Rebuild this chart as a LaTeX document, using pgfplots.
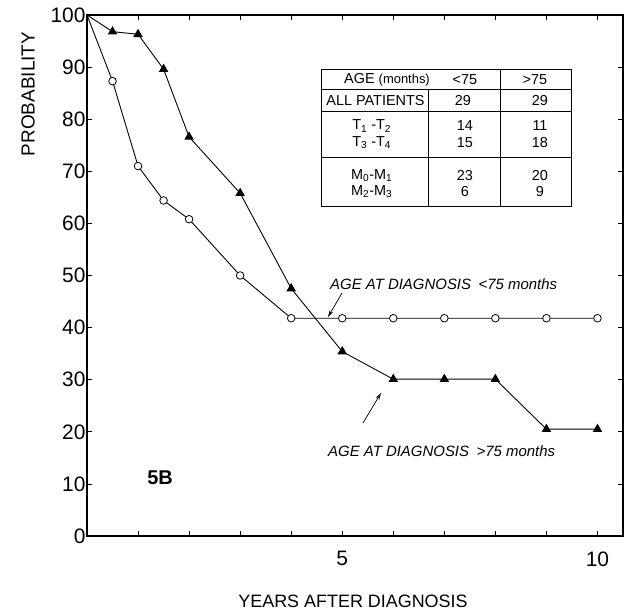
\documentclass[border=0pt]{standalone}
\usepackage{pgfplots}
\pgfplotsset{compat=1.18}
\usepackage{fontspec}
\setmainfont{Liberation Sans}
\usetikzlibrary{arrows.meta}

\newcommand{\fs}[1]{\fontsize{#1}{#1}\selectfont}

\begin{document}
\begin{tikzpicture}
% picture is 627 x 613 bp, axis box from (87,15) to (623,536) in image pixels
\useasboundingbox (-87bp,-77bp) rectangle (540bp,536bp);
\begin{axis}[
    scale only axis,
    width=536bp, height=521bp,
    xmin=0, xmax=10.5,
    ymin=0, ymax=100,
    clip=false,
    axis line style={line width=1.7pt},
    tick style={black, line width=0.8pt},
    major tick length=5bp,
    tick align=inside,
    xtick={0,...,10},
    xticklabels={,,,,,5,,,,,10},
    ytick={0,10,...,100},
    yticklabel pos=left,
    xticklabel pos=bottom,
    ticklabel style={font=\fs{21}},
    yticklabel style={xshift=2bp},
    xticklabel style={yshift=-12bp},
    /pgf/number format/assume math mode=true,
]

% age at diagnosis < 75 months
\addplot[black, line width=0.9pt, mark=*, mark size=3.8bp,
    mark options={fill=white, line width=0.8pt}, mark indices={2,...,13}]
    coordinates {
        (0,100)(0.5,87.3)(1,71.0)(1.5,64.4)(2,60.8)(3,50.0)(4,41.8)
        (5,41.8)(6,41.8)(7,41.8)(8,41.8)(9,41.8)(10,41.8)
    };

% age at diagnosis > 75 months
\addplot[black, line width=0.9pt, mark=triangle*, mark size=4.6bp,
    mark options={fill=black}, mark indices={2,...,13}]
    coordinates {
        (0,100)(0.5,96.8)(1,96.3)(1.5,89.6)(2,76.6)(3,65.8)(4,47.5)
        (5,35.4)(6,30.1)(7,30.1)(8,30.1)(9,20.5)(10,20.5)
    };

\end{axis}

% overlay in image pixel coordinates
\begin{scope}[shift={(-87bp,536bp)}, x=1bp, y=-1bp]
    % table
    \begin{scope}[line width=0.9pt]
        \draw (321.7,69) rectangle (571.7,206.7);
        \draw (321.7,89.3) -- (571.7,89.3);
        \draw (321.7,111.7) -- (571.7,111.7);
        \draw (321.7,157.3) -- (571.7,157.3);
        \draw (428.3,89.3) -- (428.3,206.7);
        \draw (500,69) -- (500,206.7);
    \end{scope}
    \begin{scope}[every node/.style={font=\fs{14.5}, inner sep=0pt}]
        \node at (387,79.5) {AGE {\fs{13}(months)}};
        \node at (465,79.5) {<75};
        \node at (535,79.5) {>75};
        \node at (375.5,100.5) {ALL PATIENTS};
        \node at (463,100.5) {29};
        \node at (540,100.5) {29};
        \node at (371.7,126) {T\textsubscript{1} -T\textsubscript{2}};
        \node at (371.7,143) {T\textsubscript{3} -T\textsubscript{4}};
        \node at (465,126) {14};
        \node at (465,143) {15};
        \node at (540,126) {11};
        \node at (540,143) {18};
        \node at (371.7,176) {M\textsubscript{0}-M\textsubscript{1}};
        \node at (371.7,192) {M\textsubscript{2}-M\textsubscript{3}};
        \node at (465,176) {23};
        \node at (465,192) {6};
        \node at (540,176) {20};
        \node at (540,192) {9};
    \end{scope}

    % annotations
    \node[anchor=base west, inner sep=0pt, font=\fs{15}\itshape] at (330,290)
        {AGE AT DIAGNOSIS\enspace<75 months};
    \draw[line width=0.7pt, -{Stealth[length=7bp, width=4bp]}] (342,293) -- (328,317);
    \node[anchor=base west, inner sep=0pt, font=\fs{15}\itshape] at (328,457)
        {AGE AT DIAGNOSIS\enspace>75 months};
    \draw[line width=0.7pt, -{Stealth[length=7bp, width=4bp]}] (363,423) -- (381,393);

    \node[font=\fs{20}\bfseries] at (160,478) {5B};
    \node[rotate=90, font=\fs{19}] at (28,94) {PROBABILITY};
    \node[font=\fs{18}] at (353,601) {YEARS AFTER DIAGNOSIS};
\end{scope}
\end{tikzpicture}
\end{document}
